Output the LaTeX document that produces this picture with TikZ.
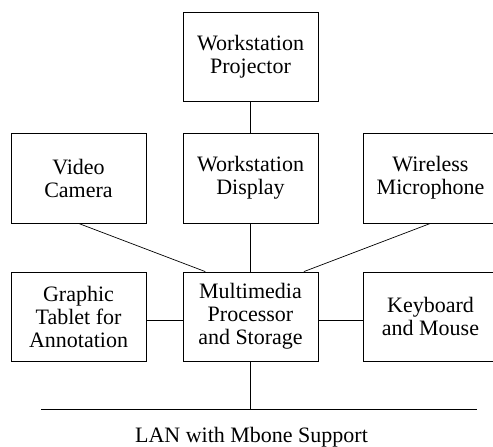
\documentclass[tikz,border=0pt]{standalone}
\usepackage{fontspec}
\setmainfont{Liberation Serif}
\begin{document}
\begin{tikzpicture}[x=1pt,y=1pt,
  box/.style={draw, line width=0.8pt, minimum width=135pt, inner sep=0pt, align=center,
    font=\fontsize{22}{23}\selectfont},
  conn/.style={line width=0.7pt}]
\useasboundingbox (0,0) rectangle (493,447);
\node[box, minimum height=89pt] (proj) at (250.5,390.5) {Workstation\\Projector};
\node[box, minimum height=90pt] (video) at (78.5,269) {Video\\Camera};
\node[box, minimum height=90pt] (disp) at (250.5,269) {Workstation\\Display};
\node[box, minimum height=90pt] (mic) at (430.5,269) {Wireless\\Microphone};
\node[box, minimum height=89pt] (tab) at (78.5,130.5) {Graphic\\Tablet for\\Annotation};
\node[box, minimum height=89pt] (mm) at (250.5,130.5) {Multimedia\\Processor\\and Storage};
\node[box, minimum height=89pt] (kb) at (430.5,130.5) {Keyboard\\and Mouse};
\coordinate (lanL) at (41,38);
\coordinate (lanR) at (477,38);
\coordinate (lanM) at (250.5,38);
\node[font=\fontsize{22}{23}\selectfont, anchor=base] (lan) at (251.5,4) {LAN with Mbone Support};
\draw[conn] (proj.south) -- (disp.north);
\draw[conn] (disp.south) -- (mm.north);
\draw[conn] (video.south) -- ([xshift=22.7pt]mm.north west);
\draw[conn] (mic.south) -- ([xshift=-14.5pt]mm.north east);
\draw[conn] ([yshift=-3.5pt]tab.east) -- ([yshift=-3.5pt]mm.west);
\draw[conn] ([yshift=-3.5pt]mm.east) -- ([yshift=-3.5pt]kb.west);
\draw[conn] (mm.south) -- (lanM);
\draw[conn] (lanL) -- (lanR);
\end{tikzpicture}
\end{document}
